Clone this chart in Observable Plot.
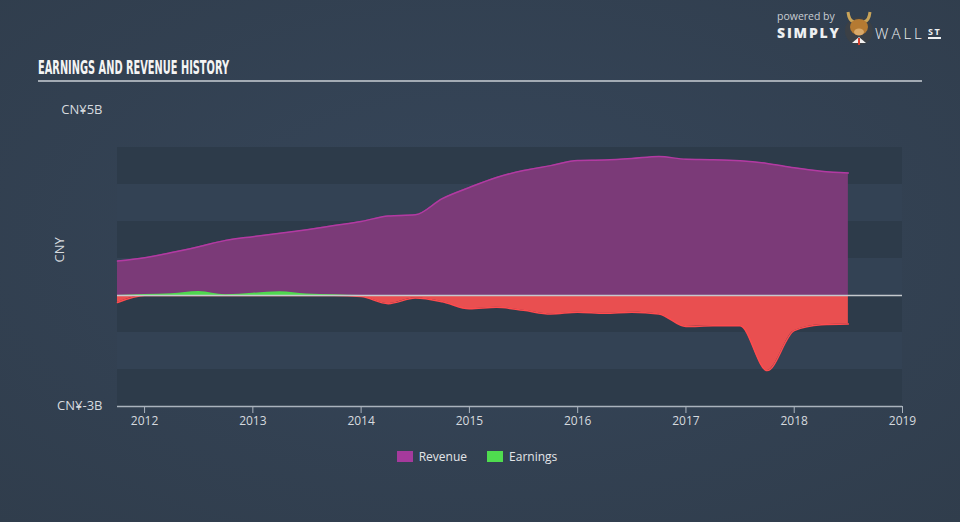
<!DOCTYPE html>
<html>
<head>
<meta charset="utf-8">
<script src="https://cdn.jsdelivr.net/npm/d3@7"></script>
<script src="https://cdn.jsdelivr.net/npm/@observablehq/plot@0.6"></script>
<style>
  body { margin: 0; background: #313e4d; }
  #wrap { position: relative; width: 960px; height: 522px; overflow: hidden;
    background: radial-gradient(ellipse 75% 75% at 50% 45%, #36465a 0%, #303d4c 100%);
    font-family: "Open Sans", Lato, sans-serif; }
  #header { position: relative; height: 100px; }
  #title { position: absolute; left: 38px; top: 55px; color: #f4f4f4; font-family: "Liberation Sans Narrow", "DejaVu Sans Condensed", sans-serif;
    font-weight: bold; font-size: 20px; white-space: nowrap; transform-origin: 0 0; display: inline-block; letter-spacing: 0; }
  #rule { position: absolute; left: 38px; top: 80px; width: 884px; height: 2px; background: #a3abb4; }
  #logo { position: absolute; left: 777px; top: 10px; width: 175px; height: 40px; color: #e6e8ea; }
  #logo .pb { position: absolute; display: block; left: 0px; top: 1px; height: 10px; font-size: 10.5px; line-height: 10px; color: #c9cdd2; font-family: "Open Sans", sans-serif; }
  #logo .simply { position: absolute; display: block; left: 0px; top: 16px; height: 14px; font-size: 14px; line-height: 14px; font-weight: 800; color: #eef0f2; font-family: "Open Sans", sans-serif; letter-spacing: 1.8px; }
  #logo .wall { position: absolute; display: block; left: 98px; top: 16px; height: 14px; font-size: 15px; line-height: 14px; font-weight: 300; color: #eef0f2; font-family: "Open Sans", sans-serif; letter-spacing: 3px; }
  #logo .st { position: absolute; display: block; left: 151px; top: 17px; font-size: 9px; font-weight: 700; color: #eef0f2; border-bottom: 2px solid #eef0f2; line-height: 9px; padding-bottom: 1px; letter-spacing: 1.5px; }
  #logo svg { position: absolute; left: 66px; top: 0px; }
  #legend { position: relative; height: 22px; display: flex; justify-content: center; align-items: center; font-size: 12px; color: #e3e5e8; margin-left: -6px; }
  #legend .item { display: flex; align-items: center; margin: 0 10px; }
  #legend .sw { width: 16px; height: 11px; margin-right: 6px; }
  #chart svg { display: block; }
</style>
</head>
<body>
<div id="wrap">
  <div id="header">
    <span id="title">EARNINGS AND REVENUE HISTORY</span>
    <div id="rule"></div>
    <div id="logo">
      <span class="pb">powered by</span>
      <span class="simply">SIMPLY</span>
      <svg width="32" height="36" viewBox="0 0 32 36">
        <circle cx="16" cy="21" r="14" fill="#3b4046"/>
        <path d="M5 2 Q6 11 11 12 M27 2 Q26 11 21 12" stroke="#c9a45a" stroke-width="3" fill="none"/>
        <ellipse cx="16" cy="17" rx="9" ry="8" fill="#b57a32"/>
        <ellipse cx="16" cy="22" rx="5" ry="3.5" fill="#d9a868"/>
        <path d="M9 33 L16 27 L23 33 Z" fill="#f2f2f2"/>
        <path d="M15 28 L17 28 L17 35 L15 35 Z" fill="#d8402f"/>
      </svg>
      <span class="wall">WALL</span>
      <span class="st">ST</span>
    </div>
  </div>
  <div id="chart"></div>
  <div id="legend"></div>
</div>
<script>
// ---- data (values in CN¥ billions, quarterly, decimal years) ----
const quarters = [2011.75, 2012.0, 2012.25, 2012.5, 2012.75, 2013.0, 2013.25, 2013.5, 2013.75,
  2014.0, 2014.25, 2014.5, 2014.75, 2015.0, 2015.25, 2015.5, 2015.75, 2016.0, 2016.25, 2016.5,
  2016.75, 2017.0, 2017.25, 2017.5, 2017.75, 2018.0, 2018.25, 2018.5];
const revenue = [0.93, 1.02, 1.16, 1.32, 1.49, 1.59, 1.68, 1.78, 1.89, 2.0, 2.15, 2.18, 2.62, 2.92,
  3.19, 3.38, 3.51, 3.65, 3.66, 3.70, 3.76, 3.68, 3.67, 3.64, 3.57, 3.45, 3.36, 3.31];
const earnings = [-0.19, 0.03, 0.05, 0.11, 0.02, 0.06, 0.10, 0.04, 0.02, -0.03, -0.22, -0.07, -0.17,
  -0.36, -0.32, -0.40, -0.50, -0.45, -0.48, -0.45, -0.50, -0.84, -0.82, -0.82, -2.03, -0.95, -0.79, -0.77];
const xTicks = [2012, 2013, 2014, 2015, 2016, 2017, 2018, 2019];
const xDomain = [2011.75, 2019];
const yDomain = [-3, 5];
const yTicks = [5, -3];
const yLabels = ["CN¥5B", "CN¥-3B"];
const yTitle = "CNY";
const bandRange = [-3, 4];
const seriesNames = ["Revenue", "Earnings"];
const seriesColors = ["#a53a9c", "#4fdc4f"];

const data = quarters.map((t, i) => ({t, rev: revenue[i], earn: earnings[i]}));
const bands = d3.range(bandRange[0], bandRange[1]);

const curve = "monotone-x";
const chart = Plot.plot({
  width: 960,
  height: 345,
  marginLeft: 117,
  marginRight: 58,
  marginTop: 10,
  marginBottom: 39,
  style: {background: "transparent", fontFamily: "'Open Sans', Lato, sans-serif", fontSize: "12px", color: "#d6dadf"},
  x: {domain: xDomain, axis: null},
  y: {domain: yDomain, axis: null},
  marks: [
    Plot.rect(bands, {x1: () => xDomain[0], x2: () => xDomain[1], y1: d => d, y2: d => d + 1,
      fill: (d, i) => i % 2 === 0 ? "#2d3b4a" : "#334254"}),
    Plot.areaY(data, {x: "t", y1: 0, y2: "rev", fill: "#7b3a78", curve}),
    Plot.lineY(data, {x: "t", y: "rev", stroke: "#b23aa2", strokeWidth: 1.5, curve}),
    Plot.areaY(data, {x: "t", y1: 0, y2: d => Math.min(0, d.earn), fill: "#e94f50", curve}),
    Plot.lineY(data, {x: "t", y: d => Math.min(0, d.earn), stroke: "#ff4b4e", strokeWidth: 1.5, curve}),
    Plot.areaY(data, {x: "t", y1: 0, y2: d => Math.max(0, d.earn), fill: "#4fd84f", curve}),
    Plot.ruleY([0], {x1: xDomain[0], x2: xDomain[1], stroke: "#c5c9ce", strokeWidth: 1.5}),
    Plot.ruleY([yDomain[0]], {x1: xDomain[0], x2: xDomain[1], stroke: "#aab3bd", strokeWidth: 1.5}),
    Plot.axisX({ticks: xTicks, tickFormat: d => String(d), tickSize: 7, tickPadding: 3, label: null,
      stroke: "#aab3bd", color: "#d6dadf", fontSize: 12}),
    Plot.axisY({ticks: yTicks, tickFormat: d => yLabels[yTicks.indexOf(d)], tickSize: 0, tickPadding: 15,
      label: null, color: "#d6dadf", fontSize: 13, dy: -1}),
    Plot.text([yTitle], {frameAnchor: "left", text: d => d, dx: -58, dy: 4, rotate: -90, fill: "#d6dadf", fontSize: 13})
  ]
});
document.getElementById("chart").appendChild(chart);

const legend = document.getElementById("legend");
seriesNames.forEach((name, i) => {
  const item = document.createElement("div");
  item.className = "item";
  const sw = document.createElement("div");
  sw.className = "sw";
  sw.style.background = seriesColors[i];
  const lab = document.createElement("span");
  lab.textContent = name;
  item.appendChild(sw);
  item.appendChild(lab);
  legend.appendChild(item);
});

// fit the condensed title to the reference width
const title = document.getElementById("title");
const w = title.getBoundingClientRect().width;
title.style.transform = `scaleX(${191 / w})`;
</script>
</body>
</html>
